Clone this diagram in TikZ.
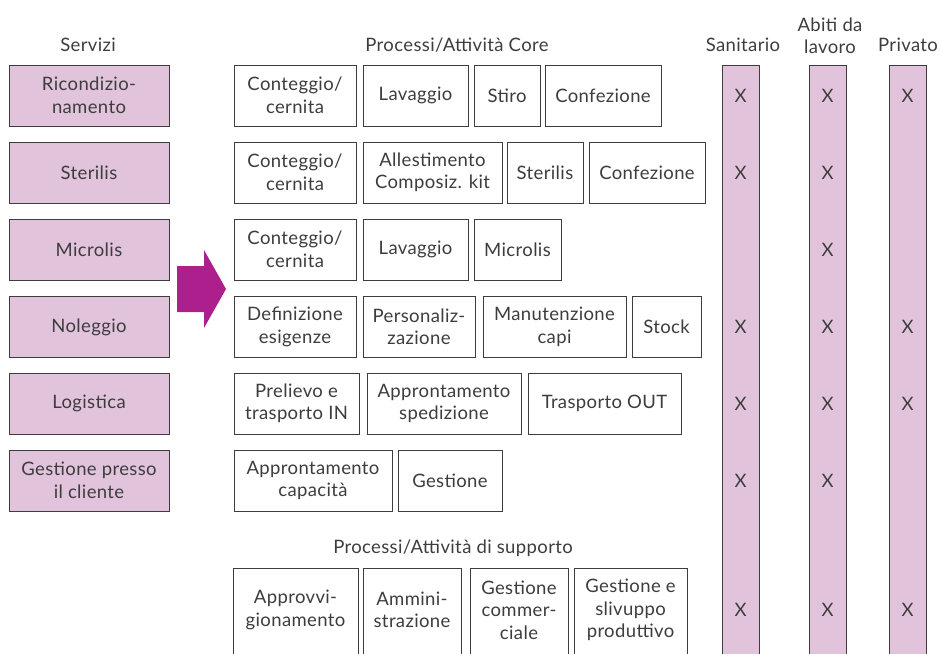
\documentclass[tikz,border=0pt]{standalone}
\usepackage{fontspec}
\setmainfont{Lato}[LetterSpace=2]
\definecolor{lilac}{HTML}{E2C3DC}
\definecolor{arrowmag}{HTML}{AD1F8C}
\definecolor{ink}{HTML}{3D3D3D}
\begin{document}
\begin{tikzpicture}[x=1pt,y=-1pt,
  every node/.style={font=\fontsize{18.5}{22.5}\selectfont, text=ink},
  cell/.style={draw=ink, line width=1pt, fill=white, minimum height=61pt,
    inner sep=0pt, align=center},
  svc/.style={cell, fill=lilac, minimum width=160pt},
  supbox/.style={draw=ink, line width=1pt, fill=white, minimum height=96pt,
    inner sep=0pt, anchor=north},
  colbar/.style={draw=ink, line width=1pt, fill=lilac, minimum width=37pt,
    minimum height=610pt, inner sep=0pt, anchor=north},
  head/.style={align=center, inner sep=0pt},
  xmark/.style={inner sep=0pt}]
\useasboundingbox (0,0) rectangle (941,653);

% column headings
\node[head] (hserv) at (88,45) {Servizi};
\node[head] (hcore) at (457,45) {Processi/Attività Core};
\node[head] (hsan) at (743,45) {Sanitario};
\node[head, anchor=south] (habiti) at (830,54) {Abiti da\\lavoro};
\node[head] (hpriv) at (908,45) {Privato};

% services
\node[svc] (s1) at (89,95.5) {Ricondizio-\\namento};
\node[svc] (s2) at (89,172.5) {Sterilis};
\node[svc] (s3) at (89,249.5) {Microlis};
\node[svc] (s4) at (89,327) {Noleggio};
\node[svc] (s5) at (89,403.5) {Logistica};
\node[svc] (s6) at (89,480.5) {Gestione presso\\il cliente};

% big arrow
\fill[arrowmag] (177,266) -- (204,266) -- (204,250) -- (226,289) -- (204,328)
  -- (204,312) -- (177,312) -- cycle;

% core processes, row 1
\node[cell, minimum width=122pt] (a1) at (295,95.5) {Conteggio/\\cernita};
\node[cell, minimum width=105pt] (a2) at (415.5,95.5) {Lavaggio};
\node[cell, minimum width=66pt] (a3) at (507,95.5) {Stiro};
\node[cell, minimum width=116pt] (a4) at (603,95.5) {Confezione};
% row 2
\node[cell, minimum width=122pt] (b1) at (295,172.5) {Conteggio/\\cernita};
\node[cell, minimum width=139pt] (b2) at (432.5,172.5) {Allestimento\\Composiz. kit};
\node[cell, minimum width=76pt] (b3) at (545,172.5) {Sterilis};
\node[cell, minimum width=116pt] (b4) at (647,172.5) {Confezione};
% row 3
\node[cell, minimum width=122pt] (c1) at (295,249.5) {Conteggio/\\cernita};
\node[cell, minimum width=105pt] (c2) at (415.5,249.5) {Lavaggio};
\node[cell, minimum width=87pt] (c3) at (517.5,249.5) {Microlis};
% row 4
\node[cell, minimum width=122pt] (d1) at (295,327) {Definizione\\esigenze};
\node[cell, minimum width=112pt] (d2) at (419,327) {Personaliz-\\zazione};
\node[cell, minimum width=143pt] (d3) at (554.5,327) {Manutenzione\\capi};
\node[cell, minimum width=69pt] (d4) at (666.5,327) {Stock};
% row 5
\node[cell, minimum width=125pt] (e1) at (296.5,403.5) {Prelievo e\\trasporto IN};
\node[cell, minimum width=154pt] (e2) at (444,403.5) {Approntamento\\spedizione};
\node[cell, minimum width=153pt] (e3) at (604.5,403.5) {Trasporto OUT};
% row 6
\node[cell, minimum width=158pt] (f1) at (313,480.5) {Approntamento\\capacità};
\node[cell, minimum width=104pt] (f2) at (450,480.5) {Gestione};

% support processes
\node[head] (hsup) at (453,548) {Processi/Attività di supporto};
\node[supbox, minimum width=125pt] (g1) at (295.5,568) {};
\node[supbox, minimum width=98pt] (g2) at (412,568) {};
\node[supbox, minimum width=98pt] (g3) at (519,568) {};
\node[supbox, minimum width=113pt] (g4) at (630.5,568) {};
\node[head] (t1) at (295.5,610) {Approvvi-\\gionamento};
\node[head] (t2) at (412,610) {Ammini-\\strazione};
\node[head] (t3) at (519,610) {Gestione\\commer-\\ciale};
\node[head] (t4) at (630.5,610) {Gestione e\\slivuppo\\produttivo};

% market columns
\node[colbar] (cs) at (740.5,65) {};
\node[colbar] (ca) at (827.5,65) {};
\node[colbar] (cp) at (907.5,65) {};

\foreach \y/\n in {95.5/1,172.5/2,327/4,403.5/5,480.5/6,610/7}
  \node[xmark] (xs\n) at (740.5,\y) {X};
\foreach \y/\n in {95.5/1,172.5/2,249.5/3,327/4,403.5/5,480.5/6,610/7}
  \node[xmark] (xa\n) at (827.5,\y) {X};
\foreach \y/\n in {95.5/1,327/4,403.5/5,610/7}
  \node[xmark] (xp\n) at (907.5,\y) {X};
\end{tikzpicture}
\end{document}
